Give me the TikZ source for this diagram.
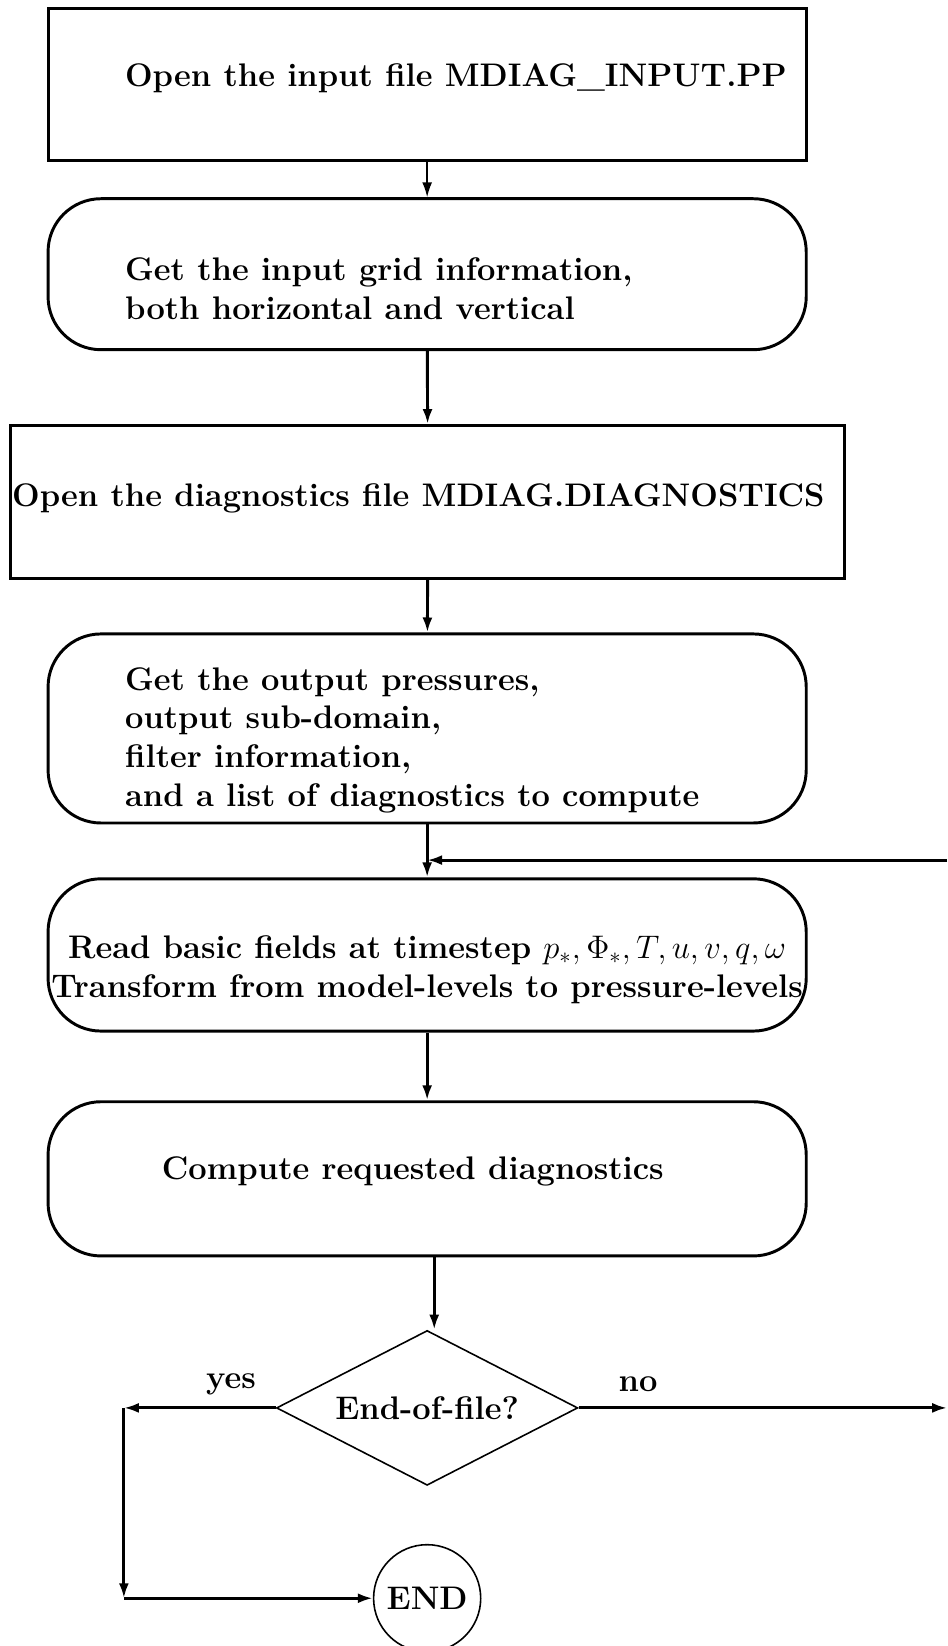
\documentclass[tikz,border=0pt]{standalone}
\usepackage{xcolor}
\usepackage{tikz}
\usetikzlibrary{shapes.geometric,arrows.meta,positioning}

\begin{document}
\begin{tikzpicture}[
  box/.style={
    rectangle,
    draw=black,
    line width=1.3pt,
    inner sep=0pt,
    minimum width=11.75cm,
    minimum height=2.37cm
  },
  roundbox/.style={
    box,
    rounded corners=0.82cm
  },
  txt/.style={
    inner sep=0pt,
    align=left,
    font=\fontsize{14.4}{17}\selectfont\bfseries
  },
  decision/.style={
    diamond,
    aspect=2,
    draw=black,
    line width=0.7pt,
    inner sep=0pt,
    minimum width=4.67cm,
    minimum height=2.40cm,
    font=\fontsize{14.4}{17}\selectfont\bfseries
  },
  terminal/.style={
    circle,
    draw=black,
    line width=0.7pt,
    inner sep=0pt,
    minimum size=1.66cm,
    font=\fontsize{14.4}{17}\selectfont\bfseries
  },
  arrow/.style={
    ->,
    line width=1.3pt,
    >={Latex[length=6.6pt,width=4.4pt]}
  }
]
  \useasboundingbox (0,0) rectangle (14.68,25.51);

  % Input file
  \node[box] (input) at (6.62,24.20) {};
  \node[txt, right=1.21cm of input.west, yshift=0.09cm] (inputtxt) {Open the input file MDIAG\_INPUT.PP};

  % Input grid
  \node[roundbox, minimum height=2.34cm] (grid) at (6.62,21.26) {};
  \node[txt, right=1.21cm of grid.west, yshift=-0.22cm] (gridtxt) {Get the input grid information,\\both horizontal and vertical};

  % Diagnostics file
  \node[box, minimum width=12.93cm] (diag) at (6.63,17.73) {};
  \node[txt, right=0.04cm of diag.west, yshift=0.05cm] (diagtxt) {Open the diagnostics file MDIAG.DIAGNOSTICS};

  % Output selection
  \node[roundbox, minimum height=2.93cm] (outsel) at (6.62,14.22) {};
  \node[txt, right=1.21cm of outsel.west, yshift=-0.18cm] (outseltxt) {Get the output pressures,\\output sub-domain,\\filter information,\\and a list of diagnostics to compute};

  % Read and transform
  \node[roundbox, minimum height=2.36cm] (read) at (6.62,10.71) {};
  \node[txt, align=center, yshift=-0.23cm] (readtxt) at (read.center) {Read basic fields at timestep $p_*, \Phi_*, T, u, v, q, \omega$\\Transform from model-levels to pressure-levels};

  % Compute
  \node[roundbox, minimum height=2.39cm] (compute) at (6.62,7.24) {};
  \node[txt, right=1.78cm of compute.west, yshift=0.12cm] (computetxt) {Compute requested diagnostics};

  % Decision and end
  \node[decision] (eof) at (6.62,3.69) {End-of-file?};
  \node[terminal] (stop) at (6.62,0.74) {END};

  \node[txt] (yes) at (3.58,4.06) {yes};
  \node[txt] (no) at (9.89,4.06) {no};

  \coordinate (loopin) at (14.68,12.18);
  \coordinate (noend) at (14.68,3.69);
  \coordinate (yesturn) at (1.92,3.69);
  \coordinate (endturn) at (1.92,0.74);

  % Arrows - Main flow
  \draw[arrow, line width=0.7pt] (input) -- (grid);
  \draw[arrow] (grid) -- (diag);
  \draw[arrow] (diag) -- (outsel);
  \draw[arrow] (outsel) -- (read);
  \draw[arrow] (loopin) -- (loopin -| read.north);
  \draw[arrow] (read) -- (compute);
  \draw[arrow] ([xshift=0.11cm]compute.south) -- ([xshift=0.11cm]compute.south |- eof.north);

  % Branching
  \draw[arrow] (eof.west) -- (yesturn);
  \draw[arrow] (yesturn) -- (endturn);
  \draw[arrow] (endturn) -- (stop);
  \draw[arrow] (eof.east) -- (noend);

\end{tikzpicture}
\end{document}
